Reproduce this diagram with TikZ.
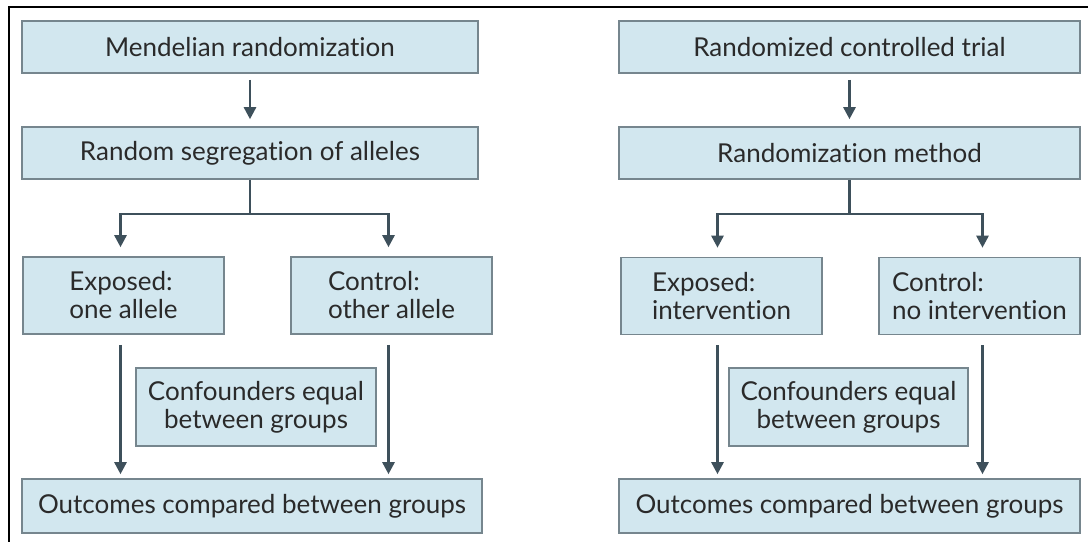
\documentclass[tikz,border=0pt]{standalone}
\usepackage{fontspec}
\setmainfont{Lato}[Ligatures=NoCommon]
\usetikzlibrary{arrows.meta,calc,positioning}
\definecolor{boxfill}{HTML}{D2E7EF}
\definecolor{boxline}{HTML}{76868E}
\definecolor{arrline}{HTML}{3E505B}
\definecolor{txt}{HTML}{2A2A2A}

\begin{document}
\begin{tikzpicture}[x=1pt,y=-1pt,
  box/.style={draw=boxline,fill=boxfill,line width=1.6pt,inner sep=0pt,text=txt,
    font=\fontsize{26}{28}\selectfont},
  wide/.style={box,minimum width=#1,minimum height=52pt},
  grp/.style={box,minimum width=#1,minimum height=77pt,align=left},
  conf/.style={box,minimum width=#1,minimum height=78pt,align=center},
  arr/.style={draw=arrline,line width=2.6pt,-{Triangle[width=12pt,length=12pt]}},
  stem/.style={draw=arrline,line width=2.6pt}]
  \useasboundingbox (0,0) rectangle (1088,542);
  \draw[line width=2.4pt] (1088,7) -- (9,7) -- (9,542);
  % left: Mendelian randomization
  \node[wide=456pt] (mr) at (250,47) {Mendelian randomization};
  \node[wide=456pt] (seg) at (250,153) {Random segregation of alleles};
  \node[grp=201pt] (exp) at (123.5,295.5) {Exposed:\\one allele};
  \node[grp=201pt] (ctl) at (391.5,295.5) {Control:\\other allele};
  \node[conf=240pt] (cnf) at (256,407) {Confounders equal\\between groups};
  \node[wide=460pt,minimum height=54pt] (out) at (252,506) {Outcomes compared between groups};
  \path (exp.north) ++(-3,0) coordinate (expu) (exp.south) ++(-3,0) coordinate (expd);
  \path (ctl.north) ++(-3,0) coordinate (ctlu) (ctl.south) ++(-3,0) coordinate (ctld);
  \draw[arr,shorten <=6pt,shorten >=7pt] (mr) -- (seg);
  \draw[stem] (seg.south) -- ++(0,34) coordinate (segfork);
  \draw[arr,shorten >=9pt] (segfork) -| (expu);
  \draw[arr,shorten >=9pt] (segfork) -| (ctlu);
  \draw[arr,shorten <=10pt,shorten >=4pt] (expd) -- (expd |- out.north);
  \draw[arr,shorten <=10pt,shorten >=4pt] (ctld) -- (ctld |- out.north);
  % right: randomized controlled trial
  \node[wide=461pt] (rct) at (849.5,47) {Randomized controlled trial};
  \node[wide=461pt] (meth) at (849.5,153) {Randomization method};
  \node[grp=201pt] (rexp) at (721.5,296) {Exposed:\\intervention};
  \node[grp=201pt] (rctl) at (979.5,296) {Control:\\no intervention};
  \node[conf=239pt] (rcnf) at (848.5,407) {Confounders equal\\between groups};
  \node[wide=461pt,minimum height=54pt] (rout) at (849.5,506) {Outcomes compared between groups};
  \path (rexp.north) ++(-4,0) coordinate (rexpu) (rexp.south) ++(-4,0) coordinate (rexpd);
  \path (rctl.north) ++(3,0) coordinate (rctlu) (rctl.south) ++(3,0) coordinate (rctld);
  \draw[arr,shorten <=6pt,shorten >=7pt] (rct) -- (meth);
  \draw[stem] (meth.south) -- ++(0,34) coordinate (methfork);
  \draw[arr,shorten >=9pt] (methfork) -| (rexpu);
  \draw[arr,shorten >=9pt] (methfork) -| (rctlu);
  \draw[arr,shorten <=10pt,shorten >=4pt] (rexpd) -- (rexpd |- rout.north);
  \draw[arr,shorten <=10pt,shorten >=4pt] (rctld) -- (rctld |- rout.north);
\end{tikzpicture}
\end{document}
